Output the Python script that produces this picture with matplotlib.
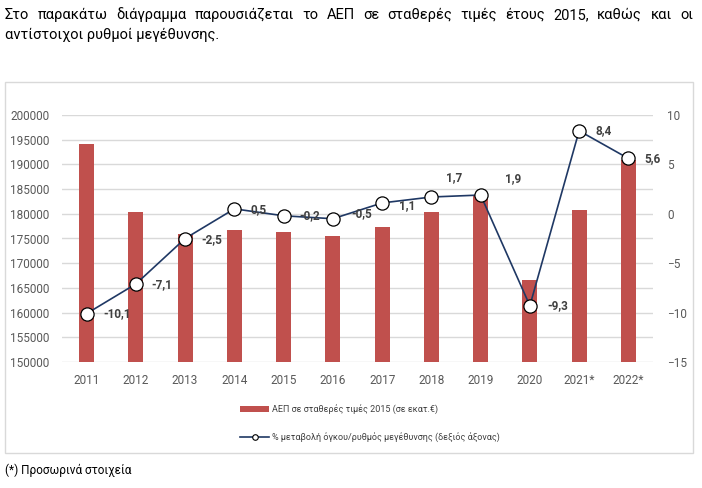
import matplotlib
matplotlib.use("Agg")
import matplotlib.pyplot as plt
from matplotlib.lines import Line2D
from matplotlib.patches import Patch, Rectangle

plt.rcParams['font.family'] = ['Roboto', 'DejaVu Sans']

years = ["2011", "2012", "2013", "2014", "2015", "2016", "2017", "2018", "2019", "2020", "2021*", "2022*"]
gdp = [194200, 180400, 175900, 176700, 176300, 175500, 177400, 180400, 183800, 166700, 180700, 190900]
growth = [-10.1, -7.1, -2.5, 0.5, -0.2, -0.5, 1.1, 1.7, 1.9, -9.3, 8.4, 5.6]
growth_labels = ["-10,1", "-7,1", "-2,5", "0,5", "-0,2", "-0,5", "1,1", "1,7", "1,9", "-9,3", "8,4", "5,6"]

title1 = "Στο παρακάτω διάγραμμα παρουσιάζεται το ΑΕΠ σε σταθερές τιμές έτους 2015, καθώς και οι"
title2 = "αντίστοιχοι ρυθμοί μεγέθυνσης."
bar_name = "ΑΕΠ σε σταθερές τιμές 2015 (σε εκατ.€)"
line_name = "% μεταβολή όγκου/ρυθμός μεγέθυνσης (δεξιός άξονας)"
note = "(*) Προσωρινά στοιχεία"

# label offsets in pixels (dx, dy)
lab_off = [(17, 0), (16, -1), (16, -1), (16, -1), (16, 0), (19, 5),
           (17, -3), (15, 19), (24, 16), (17, 0), (16, 0), (16, 0)]

W, H = 702, 488
fig = plt.figure(figsize=(W / 100, H / 100), dpi=100)

# chart area border
fig.patches.append(Rectangle((5 / W, 1 - 453 / H), 688 / W, 371 / H, transform=fig.transFigure,
                             fill=False, edgecolor="#D9D9D9", linewidth=1))

ax = fig.add_axes([62 / W, 1 - 362 / H, 591 / W, 247 / H])
x = list(range(len(years)))
ax.bar(x, gdp, width=0.3, color="#C0504D", zorder=2)
ax.set_ylim(150000, 200000)
ax.set_yticks(range(150000, 200001, 5000))
ax.set_xlim(-0.5, len(years) - 0.5)
ax.set_xticks(x)
ax.set_xticklabels(years)
ax.grid(axis="y", color="#D9D9D9", linewidth=1, zorder=0)
ax.set_axisbelow(True)
for s in ax.spines.values():
    s.set_visible(False)
ax.tick_params(axis="y", length=0, pad=9, labelsize=8.5, labelcolor="#595959")
ax.tick_params(axis="x", length=0, pad=9, labelsize=8.5, labelcolor="#595959")

ax2 = ax.twinx()
ax2.plot(x, growth, color="#1F3864", linewidth=1.2, marker="o", markersize=9.5,
         markerfacecolor="white", markeredgecolor="black", markeredgewidth=0.9, zorder=3)
ax2.set_ylim(-15, 10)
ax2.set_yticks(range(-15, 11, 5))
for s in ax2.spines.values():
    s.set_visible(False)
ax2.tick_params(axis="y", length=0, pad=10, labelsize=8.5, labelcolor="#595959")

for i in x:
    ax2.annotate(growth_labels[i], (x[i], growth[i]), xytext=lab_off[i], textcoords="offset pixels",
                 ha="left", va="center", fontsize=8.5, fontweight="bold", color="#404040", zorder=4)

handles = [Patch(facecolor="#C0504D", edgecolor="none"),
           Line2D([0], [0], color="#1F3864", linewidth=1.2, marker="o", markersize=4,
                  markerfacecolor="white", markeredgecolor="black", markeredgewidth=0.8)]
fig.legend(handles, [bar_name, line_name], loc="center left",
           bbox_to_anchor=(232 / W, 1 - 423 / H), frameon=False, fontsize=6.5,
           handlelength=3.2, handleheight=0.6, handletextpad=0.3, labelspacing=2.0,
           labelcolor="#404040")

# justified first line of the intro text
fig.canvas.draw()
renderer = fig.canvas.get_renderer()
words = title1.split(" ")
texts = [fig.text(0, 1 - 15 / H, w, fontsize=10.5, va="center", ha="left", color="black") for w in words]
widths = [t.get_window_extent(renderer).width for t in texts]
gap = (688 - sum(widths)) / (len(words) - 1)
pos = 5
for t, w in zip(texts, widths):
    t.set_x(pos / W)
    pos += w + gap
fig.text(5 / W, 1 - 35 / H, title2, fontsize=10.5, va="center", ha="left", color="black")
fig.text(5 / W, 1 - 470 / H, note, fontsize=8.5, va="center", ha="left", color="black")

fig.savefig("out.png", dpi=100)
